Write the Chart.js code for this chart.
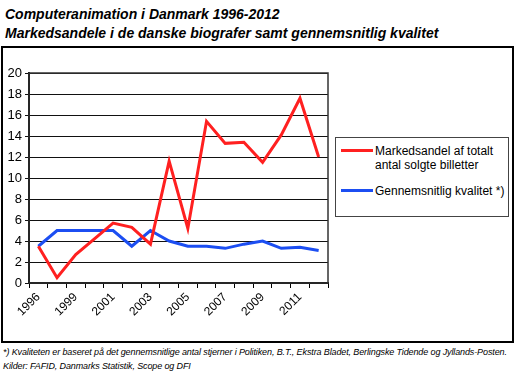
<!DOCTYPE html>
<html>
<head>
<meta charset="utf-8">
<script src="https://cdn.jsdelivr.net/npm/chart.js"></script>
<style>
    body { margin: 0; background: #fff; font-family: 'Liberation Sans', Arial, sans-serif; }
    #page { position: relative; width: 514px; height: 380px; overflow: hidden; }
    .title { position: absolute; left: 5px; font-size: 14px; font-weight: bold; font-style: italic; color: #000; white-space: nowrap; }
    #frame { position: absolute; left: 1px; top: 46px; width: 509px; height: 293px; border: 2px solid #000; }
    #chartWrap { position: absolute; left: 3px; top: 49px; width: 507px; height: 290px; }
    #legend { position: absolute; left: 335px; top: 137px; width: 172px; height: 78px; border: 1.5px solid #444; background: #fff; }
    .item { position: absolute; left: 5px; display: flex; align-items: flex-start; font-size: 12px; line-height: 14px; color: #000; }
    .swatch { width: 32px; height: 3px; margin-right: 2px; }
    .note { position: absolute; left: 3px; font-size: 9px; letter-spacing: -0.12px; font-style: italic; color: #000; white-space: nowrap; }
</style>
</head>
<body>
<div id="page">
    <div class="title" style="top: 6px;">Computeranimation i Danmark 1996-2012</div>
    <div class="title" style="top: 25px;">Markedsandele i de danske biografer samt gennemsnitlig kvalitet</div>
    <div id="frame"></div>
    <div id="chartWrap"><canvas id="animChart"></canvas></div>
    <div id="legend"></div>
    <div class="note" style="top: 347px;">*) Kvaliteten er baseret på det gennemsnitlige antal stjerner i Politiken, B.T., Ekstra Bladet, Berlingske Tidende og Jyllands-Posten.</div>
    <div class="note" style="top: 361px;">Kilder: FAFID, Danmarks Statistik, Scope og DFI</div>
</div>
<script>
// data
const years = ['1996', '1998', '1999', '2000', '2001', '2002', '2003', '2004',
               '2005', '2006', '2007', '2008', '2009', '2010', '2011', '2012'];
const marketShare = [3.5, 0.5, 2.7, 4.2, 5.7, 5.3, 3.7, 11.6, 5.2, 15.4, 13.3, 13.4, 11.5, 14.1, 17.6, 12.0];
const quality = [3.5, 5.0, 5.0, 5.0, 5.0, 3.5, 5.0, 4.0, 3.5, 3.5, 3.3, 3.7, 4.0, 3.3, 3.4, 3.1];
const seriesNames = [['Markedsandel af totalt', 'antal solgte billetter'], ['Gennemsnitlig kvalitet *)']];
const seriesColors = ['#ff2020', '#1c4ef2'];

const chartFont = "'Liberation Sans', Arial, sans-serif";

// plot area frame
const plotBorder = {
    id: 'plotBorder',
    beforeDatasetsDraw(chart) {
        const a = chart.chartArea;
        const ctx = chart.ctx;
        ctx.save();
        ctx.strokeStyle = '#333';
        ctx.lineWidth = 1.5;
        ctx.strokeRect(a.left, a.top, a.right - a.left, a.bottom - a.top);
        ctx.restore();
    }
};

const ctx = document.getElementById('animChart').getContext('2d');
new Chart(ctx, {
    type: 'line',
    data: {
        labels: years,
        datasets: [{
            label: seriesNames[0].join(' '),
            data: marketShare,
            borderColor: seriesColors[0],
            borderWidth: 3,
            pointRadius: 0,
            tension: 0,
            fill: false
        }, {
            label: seriesNames[1][0],
            data: quality,
            borderColor: seriesColors[1],
            borderWidth: 3,
            pointRadius: 0,
            tension: 0,
            fill: false
        }]
    },
    options: {
        responsive: true,
        maintainAspectRatio: false,
        animation: false,
        layout: { padding: { left: 0, right: 182, top: 24, bottom: 0 } },
        scales: {
            y: {
                min: 0,
                max: 20,
                ticks: {
                    stepSize: 2,
                    color: '#000',
                    padding: 3,
                    font: { family: chartFont, size: 13 }
                },
                grid: { color: '#111', lineWidth: 1, tickLength: 4 },
                border: { color: '#000', width: 2 },
                afterFit(scale) { scale.width = 26; }
            },
            x: {
                offset: true,
                ticks: {
                    autoSkip: false,
                    maxRotation: 45,
                    minRotation: 45,
                    color: '#000',
                    padding: 2,
                    font: { family: chartFont, size: 12 },
                    callback: function (v, i) { return i % 2 === 0 ? this.getLabelForValue(v) : ''; }
                },
                grid: { drawOnChartArea: false, drawTicks: true, tickLength: 5, color: '#000', offset: true },
                border: { color: '#000', width: 2 },
                afterFit(scale) { scale.height = 56; }
            }
        },
        plugins: {
            legend: { display: false },
            tooltip: { enabled: false }
        }
    },
    plugins: [plotBorder]
});

// legend box
const legend = document.getElementById('legend');
const tops = [6, 46];
seriesNames.forEach(function (lines, i) {
    const item = document.createElement('div');
    item.className = 'item';
    item.style.top = tops[i] + 'px';
    const sw = document.createElement('div');
    sw.className = 'swatch';
    sw.style.background = seriesColors[i];
    sw.style.marginTop = '5px';
    const txt = document.createElement('div');
    txt.innerHTML = lines.join('<br>');
    item.appendChild(sw);
    item.appendChild(txt);
    legend.appendChild(item);
});
</script>
</body>
</html>
